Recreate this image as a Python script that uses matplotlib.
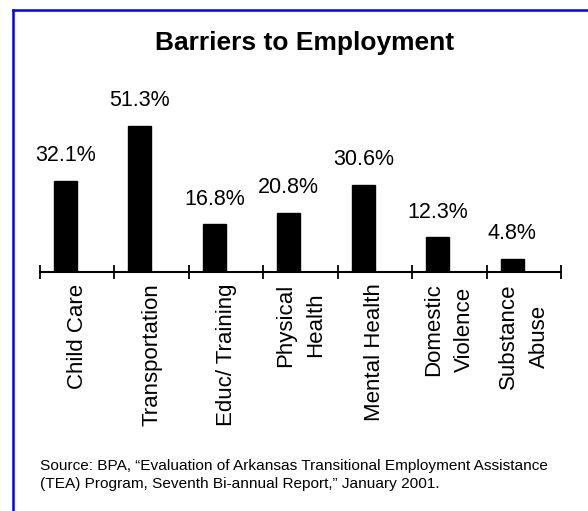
import matplotlib
matplotlib.use("Agg")
import matplotlib.pyplot as plt
from matplotlib.lines import Line2D
import numpy as np

plt.rcParams['font.family'] = ['Liberation Sans', 'DejaVu Sans']

categories = ["Child Care", "Transportation", "Educ/ Training", "Physical\nHealth",
              "Mental Health", "Domestic\nViolence", "Substance\nAbuse"]
values = [32.1, 51.3, 16.8, 20.8, 30.6, 12.3, 4.8]
value_labels = ["32.1%", "51.3%", "16.8%", "20.8%", "30.6%", "12.3%", "4.8%"]
title = "Barriers to Employment"
source = ("Source: BPA, \u201cEvaluation of Arkansas Transitional Employment Assistance\n"
          "(TEA) Program, Seventh Bi-annual Report,\u201d January 2001.")

W, H = 588, 511
fig = plt.figure(figsize=(W / 100, H / 100), dpi=100)
fig.patch.set_facecolor("white")

# blue frame along the top and left edges
fig.add_artist(Line2D([12.5 / W, 1.05], [1 - 10.5 / H, 1 - 10.5 / H],
                      color="#0000ff", lw=1.8, transform=fig.transFigure))
fig.add_artist(Line2D([12.5 / W, 12.5 / W], [1 - 10.5 / H, -0.05],
                      color="#0000ff", lw=1.8, transform=fig.transFigure))

ax_left, ax_right = 40 / W, 561 / W
ax_bottom_px, ax_top_px = 272.3, 60
ax = fig.add_axes([ax_left, 1 - ax_bottom_px / H, ax_right - ax_left,
                   (ax_bottom_px - ax_top_px) / H])

x = np.arange(len(categories))
bar_offset = -0.157
ax.bar(x + bar_offset, values, width=0.31, color="black", edgecolor="black")
for xi, v, lab in zip(x, values, value_labels):
    ax.annotate(lab, (xi + bar_offset, v), xytext=(0, 10.5), textcoords="offset points",
                ha="center", va="bottom", fontsize=15.5)

ax.set_xlim(-0.5, len(categories) - 0.5)
ax.set_ylim(0, (ax_bottom_px - ax_top_px) / 2.852)

for s in ["top", "right", "left"]:
    ax.spines[s].set_visible(False)
ax.spines["bottom"].set_linewidth(1.5)
ax.set_yticks([])

ax.set_xticks(np.arange(len(categories) + 1) - 0.5)
ax.set_xticklabels([])
ax.tick_params(axis="x", which="major", direction="inout", length=10, width=1.3)
ax.set_xticks(x, categories, minor=True)
ax.tick_params(axis="x", which="minor", length=0, pad=8, labelsize=16)
for t in ax.get_xticklabels(minor=True):
    t.set_rotation(90)
    t.set_ha("center")
    t.set_va("top")
    t.set_multialignment("center")
    t.set_linespacing(1.6)

fig.text(305 / W, 1 - 50 / H, title, ha="center", va="baseline",
         fontsize=19, fontweight="bold")
fig.text(40 / W, 1 - 459 / H, source, ha="left", va="top", fontsize=11.1,
         linespacing=1.35)

fig.savefig("out.png", dpi=100)
